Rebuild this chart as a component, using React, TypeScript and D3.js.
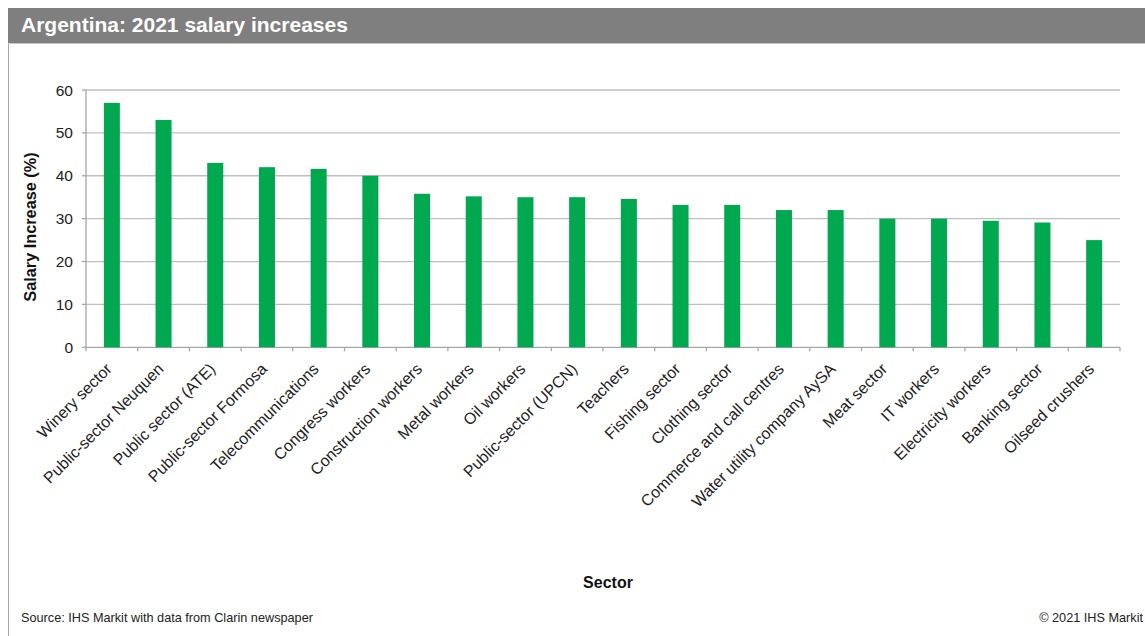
import React from "react";
import * as d3 from "d3";

const categories = [
  "Winery sector",
  "Public-sector Neuquen",
  "Public sector (ATE)",
  "Public-sector Formosa",
  "Telecommunications",
  "Congress workers",
  "Construction workers",
  "Metal workers",
  "Oil workers",
  "Public-sector (UPCN)",
  "Teachers",
  "Fishing sector",
  "Clothing sector",
  "Commerce and call centres",
  "Water utility company AySA",
  "Meat sector",
  "IT workers",
  "Electricity workers",
  "Banking sector",
  "Oilseed crushers",
];
const values = [57, 53, 43, 42, 41.6, 40, 35.8, 35.2, 35, 35, 34.6, 33.2, 33.2, 32, 32, 30, 30, 29.5, 29.1, 25];
const yTicks = [0, 10, 20, 30, 40, 50, 60];

const W = 1145;
const H = 636;
const FONT = "'Liberation Sans', Arial, sans-serif";

export default function App() {
  const x = d3
    .scaleBand<string>()
    .domain(categories)
    .range([86, 1120])
    .paddingInner(0.69)
    .paddingOuter(0.345);
  const y = d3.scaleLinear().domain([0, 60]).range([347.3, 90]);
  const step = x.step();
  const x0 = 86;
  const boundaries = d3.range(categories.length + 1).map((i) => x0 + i * step);

  return (
    <svg
      width={W}
      height={H}
      style={{ position: "absolute", left: 0, top: 0, background: "#fff" }}
      fontFamily={FONT}
    >
      {/* frame */}
      <line x1={8.5} y1={43} x2={8.5} y2={H} stroke="#a6a6a6" strokeWidth={1} />
      <rect x={8} y={8} width={W - 8} height={35} fill="#7f7f7f" />
      <line x1={8} y1={43.5} x2={W} y2={43.5} stroke="#c8c8c8" strokeWidth={1} />
      <text x={21} y={32} fill="#ffffff" fontSize={21} fontWeight="bold">
        Argentina: 2021 salary increases
      </text>

      {/* gridlines */}
      {yTicks.map((t) => (
        <line
          key={"g" + t}
          x1={x0}
          x2={1120}
          y1={y(t)}
          y2={y(t)}
          stroke={t === 0 ? "#a6a6a6" : "#bfbfbf"}
          strokeWidth={1.3}
        />
      ))}

      {/* y axis */}
      <line x1={x0} x2={x0} y1={y(60)} y2={y(0)} stroke="#a6a6a6" strokeWidth={1.3} />
      {yTicks.map((t) => (
        <g key={"yt" + t}>
          <line x1={x0 - 4} x2={x0} y1={y(t)} y2={y(t)} stroke="#a6a6a6" strokeWidth={1.3} />
          <text x={73} y={y(t)} dy="0.36em" textAnchor="end" fontSize={15.5} fill="#222">
            {t}
          </text>
        </g>
      ))}

      {/* x ticks */}
      {boundaries.map((b, i) => (
        <line key={"xt" + i} x1={b} x2={b} y1={y(0)} y2={y(0) + 4} stroke="#a6a6a6" strokeWidth={1.3} />
      ))}

      {/* bars */}
      {categories.map((c, i) => (
        <rect
          key={c}
          x={x(c)}
          y={y(values[i])}
          width={x.bandwidth()}
          height={y(0) - y(values[i])}
          fill="#00a84f"
        />
      ))}

      {/* category labels */}
      {categories.map((c) => {
        const cx = (x(c) as number) + x.bandwidth() / 2 + 1;
        const cy = 370;
        return (
          <text
            key={"l" + c}
            transform={`translate(${cx},${cy}) rotate(-45)`}
            textAnchor="end"
            fontSize={16}
            fill="#222"
          >
            {c}
          </text>
        );
      })}

      {/* axis titles */}
      <text
        transform={`translate(36,227) rotate(-90)`}
        textAnchor="middle"
        fontSize={16.3}
        fontWeight="bold"
        fill="#111"
      >
        Salary Increase (%)
      </text>
      <text x={608} y={588} textAnchor="middle" fontSize={16} fontWeight="bold" fill="#111">
        Sector
      </text>

      {/* footer */}
      <text x={21} y={622} fontSize={12.7} fill="#222">
        Source: IHS Markit with data from Clarin newspaper
      </text>
      <text x={1143} y={622} textAnchor="end" fontSize={12.7} fill="#222">
        © 2021 IHS Markit
      </text>
    </svg>
  );
}
